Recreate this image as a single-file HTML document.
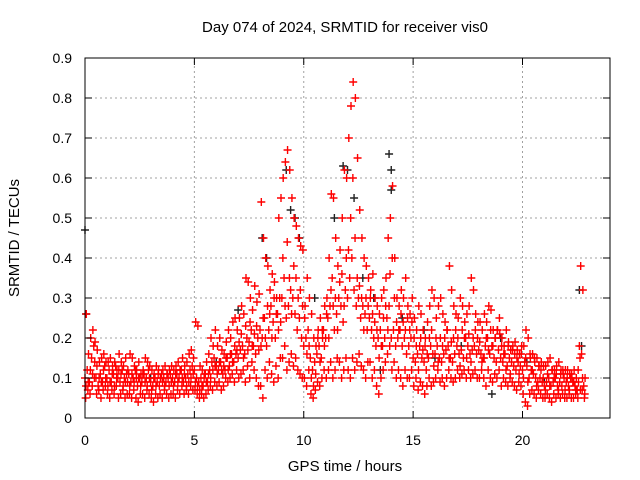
<!DOCTYPE html>
<html><head><meta charset="utf-8"><style>
html,body{margin:0;padding:0;background:#fff;}
svg{display:block;font-family:"Liberation Sans",sans-serif;}
</style></head><body>
<svg id="chart" width="640" height="480" viewBox="0 0 640 480" xmlns="http://www.w3.org/2000/svg">
<rect width="640" height="480" fill="#fff"/>
<text x="345" y="32" font-size="15" text-anchor="middle" fill="#000">Day 074 of 2024, SRMTID for receiver vis0</text>
<text x="345" y="471" font-size="15" text-anchor="middle" fill="#000">GPS time / hours</text>
<text x="0" y="0" font-size="15" text-anchor="middle" fill="#000" transform="translate(19,238) rotate(-90)">SRMTID / TECUs</text>
<g id="grid"></g><g id="marks"></g><g id="axes"></g>
</svg>
<script>
const xTicks=[0,5,10,15,20];
const yTicks=[0,0.1,0.2,0.3,0.4,0.5,0.6,0.7,0.8,0.9];
const yTickLabels=["0","0.1","0.2","0.3","0.4","0.5","0.6","0.7","0.8","0.9"];
const redT=[0.0,0.1,0.2,0.3,0.4,0.5,0.6,0.7,0.8,0.9,1.0,1.1,1.2,1.3,1.4,1.5,1.6,1.7,1.8,1.9,2.0,2.1,2.2,2.3,2.4,2.5,2.6,2.7,2.8,2.9,3.0,3.1,3.2,3.3,3.4,3.5,3.6,3.7,3.8,3.9,4.0,4.1,4.2,4.3,4.4,4.5,4.6,4.7,4.8,4.9,5.0,5.1,5.2,5.3,5.4,5.5,5.6,5.7,5.8,5.9,6.0,6.1,6.2,6.3,6.4,6.5,6.6,6.7,6.8,6.9,7.0,7.1,7.2,7.3,7.4,7.5,7.6,7.7,7.8,7.9,8.0,8.1,8.2,8.3,8.4,8.5,8.6,8.7,8.8,8.9,9.0,9.1,9.2,9.3,9.4,9.5,9.6,9.7,9.8,9.9,10.0,10.1,10.2,10.3,10.4,10.5,10.6,10.7,10.8,10.9,11.0,11.1,11.2,11.3,11.4,11.5,11.6,11.7,11.8,11.9,12.0,12.1,12.2,12.3,12.4,12.5,12.6,12.7,12.8,12.9,13.0,13.1,13.2,13.3,13.4,13.5,13.6,13.7,13.8,13.9,14.0,14.1,14.2,14.3,14.4,14.5,14.6,14.7,14.8,14.9,15.0,15.1,15.2,15.3,15.4,15.5,15.6,15.7,15.8,15.9,16.0,16.1,16.2,16.3,16.4,16.5,16.6,16.7,16.8,16.9,17.0,17.1,17.2,17.3,17.4,17.5,17.6,17.7,17.8,17.9,18.0,18.1,18.2,18.3,18.4,18.5,18.6,18.7,18.8,18.9,19.0,19.1,19.2,19.3,19.4,19.5,19.6,19.7,19.8,19.9,20.0,20.1,20.2,20.3,20.4,20.5,20.6,20.7,20.8,20.9,21.0,21.1,21.2,21.3,21.4,21.5,21.6,21.7,21.8,21.9,22.0,22.1,22.2,22.3,22.4,22.5,22.6,22.7,22.8];
const redA=[.10,.12,.09,.15,.18,.10,.08,.11,.09,.13,.10,.12,.09,.11,.13,.10,.09,.12,.10,.11,.11,.09,.10,.12,.08,.10,.09,.11,.10,.12,.09,.08,.10,.09,.08,.11,.10,.09,.10,.11,.10,.09,.11,.10,.12,.09,.10,.11,.12,.13,.12,.10,.09,.10,.08,.11,.09,.12,.14,.15,.13,.12,.14,.11,.12,.15,.13,.16,.14,.16,.15,.17,.18,.16,.20,.19,.22,.18,.16,.20,.22,.20,.25,.18,.22,.28,.24,.20,.26,.30,.30,.35,.25,.28,.32,.30,.26,.22,.25,.20,.18,.20,.22,.15,.12,.14,.16,.18,.15,.22,.20,.25,.28,.35,.22,.26,.30,.28,.24,.32,.30,.35,.40,.32,.28,.30,.25,.28,.26,.22,.25,.22,.20,.18,.20,.22,.18,.20,.25,.28,.20,.22,.18,.20,.22,.18,.20,.16,.18,.20,.15,.14,.16,.18,.15,.14,.12,.15,.18,.16,.16,.18,.15,.14,.16,.17,.18,.15,.14,.16,.18,.16,.17,.15,.20,.18,.16,.17,.18,.16,.17,.16,.15,.18,.20,.16,.18,.15,.14,.17,.15,.14,.16,.13,.15,.14,.13,.12,.14,.13,.12,.14,.13,.10,.12,.11,.10,.09,.10,.09,.08,.09,.10,.08,.09,.10,.08,.09,.08,.10,.09,.08,.10,.09,.08,.07,.18,.16,.08];
const redB=[.05,.07,.06,.08,.10,.06,.07,.05,.07,.08,.06,.05,.07,.06,.08,.05,.06,.07,.05,.06,.06,.05,.07,.05,.04,.06,.06,.05,.07,.06,.05,.04,.06,.05,.06,.05,.07,.06,.05,.06,.06,.05,.07,.06,.08,.06,.07,.06,.08,.07,.07,.06,.05,.06,.05,.06,.07,.08,.07,.09,.08,.09,.07,.08,.10,.09,.10,.11,.09,.12,.10,.11,.12,.09,.13,.10,.14,.12,.10,.08,.08,.05,.12,.10,.14,.11,.09,.13,.10,.15,.15,.18,.12,.14,.16,.13,.15,.12,.11,.10,.10,.08,.12,.06,.05,.07,.09,.08,.10,.12,.10,.12,.14,.10,.12,.15,.14,.10,.12,.15,.12,.10,.15,.12,.14,.16,.13,.12,.10,.14,.14,.10,.12,.08,.06,.10,.12,.14,.16,.18,.12,.14,.10,.12,.10,.08,.12,.10,.10,.12,.08,.10,.07,.09,.08,.06,.08,.10,.08,.09,.10,.12,.09,.10,.08,.10,.12,.10,.09,.10,.12,.10,.11,.12,.10,.12,.10,.11,.12,.10,.10,.12,.10,.08,.12,.10,.09,.11,.10,.12,.08,.10,.09,.08,.10,.09,.08,.07,.09,.08,.06,.04,.03,.06,.07,.06,.05,.07,.06,.05,.05,.06,.05,.04,.06,.05,.06,.05,.06,.05,.05,.06,.05,.05,.06,.05,.15,.07,.05];
const redC=[.26,.16,.20,.22,.19,.17,.14,.15,.16,.14,.14,.15,.13,.14,.12,.16,.14,.13,.15,.12,.16,.15,.13,.12,.14,.11,.12,.15,.14,.13,.12,.11,.13,.12,.10,.12,.13,.11,.12,.13,.12,.13,.14,.12,.15,.13,.14,.16,.17,.15,.24,.23,.13,.12,.11,.14,.16,.20,.18,.22,.18,.20,.17,.16,.19,.22,.20,.24,.25,.22,.25,.28,.26,.35,.34,.30,.27,.33,.29,.31,.54,.45,.40,.38,.32,.36,.34,.30,.50,.55,.60,.64,.67,.62,.55,.50,.48,.45,.43,.42,.28,.35,.30,.26,.20,.18,.22,.25,.20,.28,.30,.40,.56,.55,.45,.38,.42,.50,.62,.60,.70,.78,.84,.80,.65,.52,.45,.40,.38,.35,.32,.36,.30,.28,.26,.30,.32,.35,.45,.50,.58,.40,.30,.28,.32,.30,.35,.28,.26,.30,.25,.22,.28,.26,.22,.20,.24,.28,.32,.30,.25,.28,.30,.26,.24,.22,.38,.32,.28,.26,.25,.30,.28,.24,.26,.28,.35,.32,.26,.24,.24,.22,.26,.24,.28,.27,.22,.20,.22,.21,.20,.18,.22,.19,.17,.18,.19,.17,.16,.18,.18,.22,.20,.15,.16,.14,.15,.13,.14,.13,.13,.14,.15,.12,.12,.13,.14,.12,.11,.12,.12,.11,.10,.12,.10,.09,.38,.32,.10];
const redD=[.08,.09,.12,.11,.14,.13,.10,.09,.12,.10,.08,.09,.11,.08,.10,.12,.11,.08,.09,.09,.08,.11,.09,.10,.10,.08,.11,.09,.08,.10,.07,.10,.08,.11,.10,.09,.08,.11,.08,.09,.08,.11,.09,.12,.10,.11,.08,.09,.10,.11,.09,.08,.07,.08,.10,.09,.11,.10,.12,.13,.11,.14,.12,.13,.15,.12,.16,.14,.18,.17,.19,.21,.15,.23,.17,.24,.18,.21,.23,.17,.18,.25,.20,.28,.26,.20,.30,.26,.22,.24,.40,.28,.44,.35,.26,.38,.35,.30,.32,.28,.25,.16,.18,.10,.08,.11,.20,.14,.22,.18,.26,.20,.32,.28,.30,.22,.34,.36,.28,.40,.42,.50,.60,.45,.35,.33,.30,.22,.30,.28,.30,.26,.24,.22,.15,.18,.25,.28,.22,.36,.40,.30,.24,.22,.26,.24,.22,.25,.22,.24,.20,.18,.12,.20,.17,.18,.16,.20,.22,.13,.20,.14,.20,.18,.20,.22,.15,.19,.20,.22,.20,.13,.22,.20,.15,.21,.14,.20,.22,.20,.19,.14,.15,.20,.17,.22,.18,.20,.22,.25,.18,.16,.12,.18,.11,.17,.16,.15,.11,.16,.10,.15,.09,.16,.12,.15,.08,.13,.12,.10,.07,.11,.08,.12,.10,.11,.07,.11,.12,.07,.10,.07,.11,.09,.07,.12,.07,.10,.06,.11,.20,.28,.06];
const blackT=[0.0,0.05,7.0,8.1,8.3,9.2,9.4,9.6,9.8,10.5,11.4,11.8,12.0,12.3,12.7,13.2,13.5,13.9,14.0,14.0,14.5,15.5,17.2,18.6,19.0,20.2,22.6,22.7,3.0,6.0,16.0,21.0];
const blackV=[0.47,0.26,0.27,0.45,0.40,0.62,0.52,0.50,0.45,0.30,0.50,0.63,0.62,0.55,0.35,0.30,0.12,0.66,0.62,0.57,0.25,0.22,0.18,0.06,0.20,0.14,0.32,0.18,0.10,0.14,0.15,0.09];

const X0=85,X1=610,Y0=418,Y1=58,XMAX=24,YMAX=0.9;
const xs=t=>X0+t/XMAX*(X1-X0);
const ys=v=>Y0-v/YMAX*(Y0-Y1);
const NS="http://www.w3.org/2000/svg";
function mk(tag,attrs,parent){const e=document.createElementNS(NS,tag);for(const k in attrs)e.setAttribute(k,attrs[k]);parent.appendChild(e);return e;}
const grid=document.getElementById('grid'),marks=document.getElementById('marks'),axes=document.getElementById('axes');
yTicks.forEach((v,i)=>{
  const y=ys(v);
  if(i>0&&i<yTicks.length-1){const g=mk('line',{x1:X0,x2:X1,y1:y,y2:y,stroke:'#a0a0a0','stroke-dasharray':'2,3','stroke-width':1},grid);
  
  }
  const t=mk('line',{x1:X0,x2:X0+7,y1:y,y2:y,stroke:'#000'},axes);
  
  
  mk('line',{x1:X1,x2:X1-7,y1:y,y2:y,stroke:'#000'},axes);
  const l=mk('text',{x:X0-13,y:y+5,'font-size':14,'text-anchor':'end',fill:'#000'},axes);
  l.textContent=yTickLabels[i];
  
  
});
xTicks.forEach(t=>{
  const x=xs(t);
  if(t>0){const g=mk('line',{x1:x,x2:x,y1:Y0,y2:Y1,stroke:'#a0a0a0','stroke-dasharray':'2,3','stroke-width':1},grid);
  
  }
  const k=mk('line',{x1:x,x2:x,y1:Y0,y2:Y0-7,stroke:'#000'},axes);
  
  
  mk('line',{x1:x,x2:x,y1:Y1,y2:Y1+7,stroke:'#000'},axes);
  const l=mk('text',{x:x,y:Y0+27,'font-size':14,'text-anchor':'middle',fill:'#000'},axes);
  l.textContent=String(t);
  
  
});
const frame=mk('rect',{x:X0,y:Y1,width:X1-X0,height:Y0-Y1,fill:'none',stroke:'#000','stroke-width':1},axes);


function plus(t,v,color,name){
  const x=xs(t),y=ys(v);
  const p=mk('path',{d:`M${x-4},${y}H${x+4}M${x},${y-4}V${y+4}`,stroke:color,'stroke-width':1.4,fill:'none'},marks);
  
  
}
blackT.forEach((t,i)=>plus(t,blackV[i],'#222','point-black'));
redT.forEach((t,i)=>{
  plus(t,redA[i],'#ff0000','point-red');
  plus(t+0.03,redB[i],'#ff0000','point-red');
  plus(t+0.06,redC[i],'#ff0000','point-red');
  plus(t+0.045,redD[i],'#ff0000','point-red');
});
</script>
</body></html>
